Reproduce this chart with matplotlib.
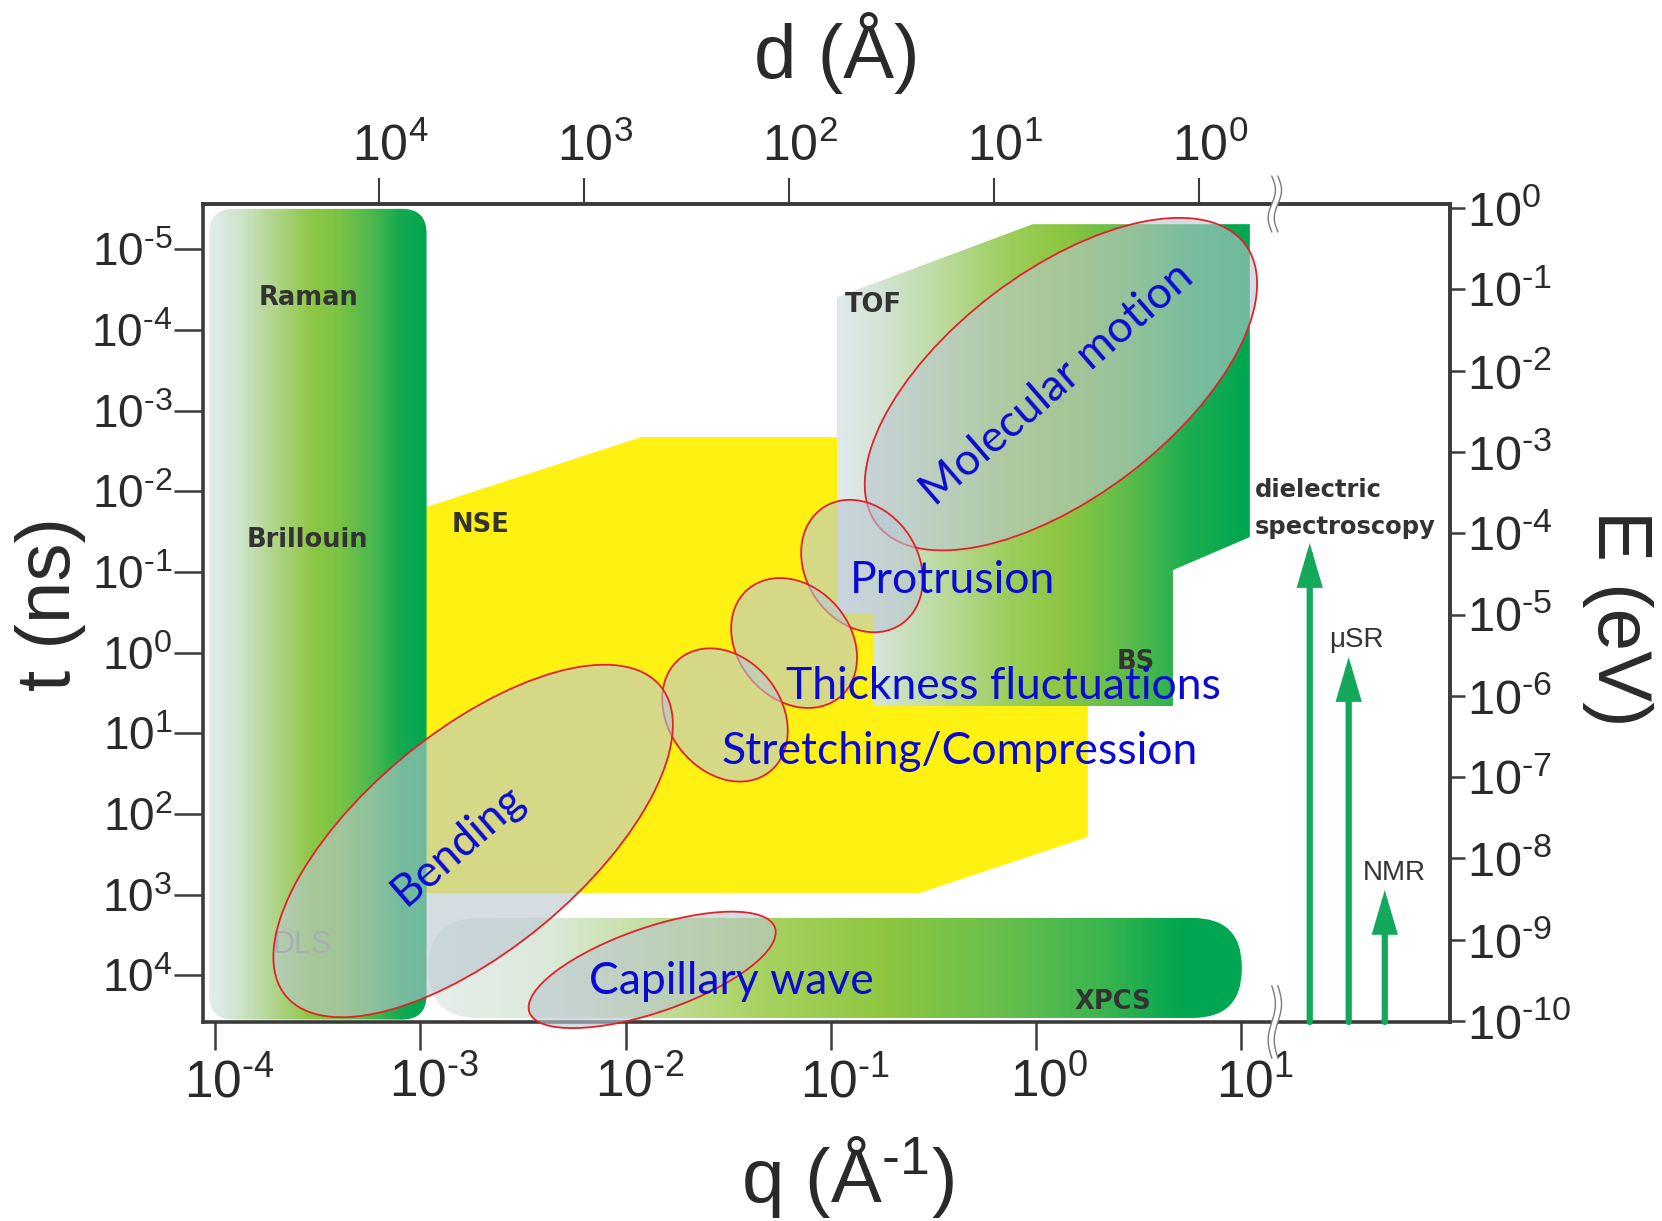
import numpy as np
import matplotlib
matplotlib.use("Agg")
import matplotlib.pyplot as plt
from matplotlib.patches import Polygon, FancyBboxPatch, Ellipse
from matplotlib.colors import LinearSegmentedColormap
from matplotlib.transforms import Affine2D, ScaledTranslation

plt.rcParams['font.family'] = ['Liberation Sans', 'DejaVu Sans']
plt.rcParams['mathtext.fontset'] = 'custom'
plt.rcParams['mathtext.rm'] = 'Liberation Sans'
plt.rcParams['mathtext.it'] = 'Liberation Sans:italic'
plt.rcParams['mathtext.bf'] = 'Liberation Sans:bold'

# ---------------------------------------------------------------------------
# Everything is placed in decades: log10 q [1/Å] across, log10 t [ns] down.
# ---------------------------------------------------------------------------
q_decades = [-4, -3, -2, -1, 0, 1]
t_decades = [-5, -4, -3, -2, -1, 0, 1, 2, 3, 4]
d_decades = [4, 3, 2, 1, 0]
E_decades = [0, -1, -2, -3, -4, -5, -6, -7, -8, -9, -10]

q_range = (-4.06, 2.02)
t_range = (-5.56, 4.58)
q_break = 1.166          # where the q axis is interrupted

# Light scattering (Raman / Brillouin / DLS) window
raman_q = [-4.03, -2.97]
raman_t = [-5.50, 4.55]

# XPCS window
xpcs_q = [-2.96, 1.005]
xpcs_t = [3.29, 4.53]

# Neutron spin echo window
nse_q = [-2.972, -1.924, -0.90, -0.90, 0.254, 0.254, -0.564, -2.972]
nse_t = [-1.803, -2.670, -2.670, -0.489, -0.489, 2.286, 2.98, 2.98]

# Time-of-flight + backscattering window
tof_q = [-0.969, -0.014, 1.044, 1.044, 0.669, 0.669, -0.788, -0.788, -0.969]
tof_t = [-4.405, -5.31, -5.31, -1.431, -1.022, 0.663, 0.663, -0.489, -0.489]

# Local probes beyond the q break: arrows reaching up to their fastest time
probe_q = [1.336, 1.526, 1.702]
probe_tip_t = [-1.357, 0.056, 2.943]

# Technique names
tech_names = ['Raman', 'Brillouin', 'NSE', 'TOF', 'BS', 'DLS', 'XPCS',
              'dielectric', 'spectroscopy', 'μSR', 'NMR']
tech_q = [-3.547, -3.552, -2.709, -0.793, 0.488, -3.576, 0.376,
          1.068, 1.068, 1.565, 1.750]
tech_t = [-4.393, -1.394, -1.580, -4.306, 0.118, 3.625, 4.331,
          -2.014, -1.555, -0.155, 2.732]

# Membrane dynamics domains (ellipse centre, size in points, tilt in degrees)
motion_q = [0.123, -0.847, -1.178, -1.515, -2.743, -1.870]
motion_t = [-3.327, -1.072, -0.118, 0.774, 2.336, 3.934]
motion_w = [333, 101, 102, 104, 350, 187]
motion_h = [162, 81, 81, 81, 157, 61]
motion_tilt = [37.3, 123.5, 131, 128, 39.6, 19]

# Membrane dynamics names
motion_names = ['Molecular motion', 'Protrusion', 'Thickness fluctuations',
                'Stretching/Compression', 'Bending', 'Capillary wave']
motion_label_q = [0.103, -0.408, -0.155, -0.369, -2.816, -1.485]
motion_label_t = [-3.327, -0.898, 0.415, 1.233, 2.385, 4.083]
motion_label_rot = [41, 0, 0, 0, 41, 0]


def t_to_E(lt):
    return -(np.asarray(lt) + 5.508) * 0.9927


def E_to_t(le):
    return -np.asarray(le) / 0.9927 - 5.508


def q_to_d(lq):
    return np.log10(2 * np.pi) - np.asarray(lq)


def dec(n):
    if n < 0:
        return r'$10^{\text{-}%d}$' % (-n)
    return r'$10^{%d}$' % n


W, H = 1662, 1221
fig = plt.figure(figsize=(W / 100, H / 100), dpi=100)
ax = fig.add_axes([203 / W, 1 - 1022 / H, (1450 - 203) / W, (1022 - 204) / H])
ax.set_xlim(*q_range)
ax.set_ylim(t_range[1], t_range[0])
ax.set_autoscale_on(False)

AXC = '#3b3b3b'
GREEN = '#00a651'
ASPECT = 2.54   # decades of t per decade of q for equal on-screen length


def gradient_fill(patch, x0, x1, stops, z):
    ax.add_patch(patch)
    cmap = LinearSegmentedColormap.from_list('g', stops)
    grad = np.linspace(0, 1, 600)[None, :]
    im = ax.imshow(grad, cmap=cmap, extent=(x0, x1, t_range[1], t_range[0]),
                   aspect='auto', interpolation='bilinear', zorder=z)
    im.set_clip_path(patch)


# NSE (flat yellow)
ax.add_patch(Polygon(np.column_stack([nse_q, nse_t]), closed=True,
                     fc='#fff212', ec='none', zorder=1))

# Raman / Brillouin / DLS column
col = FancyBboxPatch((raman_q[0], raman_t[0]), raman_q[1] - raman_q[0],
                     raman_t[1] - raman_t[0],
                     boxstyle='round,pad=0,rounding_size=0.12',
                     mutation_aspect=ASPECT, fc='none', ec='none', zorder=2)
gradient_fill(col, raman_q[0], raman_q[1],
              [(0, '#e2edee'), (0.12, '#d2e5d3'), (0.3, '#b0d58a'),
               (0.47, '#8ec744'), (0.6, '#7ac346'), (0.75, '#4cb84e'),
               (0.88, '#13aa50'), (1, GREEN)], 2)

# TOF / BS block
tof = Polygon(np.column_stack([tof_q, tof_t]), closed=True, fc='none',
              ec='none', zorder=2)
gradient_fill(tof, min(tof_q), max(tof_q),
              [(0, '#dfe9ec'), (0.1, '#d4e4d6'), (0.25, '#bcdb9f'),
               (0.42, '#9ccd5a'), (0.55, '#8cc640'), (0.7, '#5fbc4b'),
               (0.85, '#1dae50'), (1, GREEN)], 2)

# XPCS pill
xp = FancyBboxPatch((xpcs_q[0], xpcs_t[0]), xpcs_q[1] - xpcs_q[0],
                    xpcs_t[1] - xpcs_t[0],
                    boxstyle='round,pad=0,rounding_size=0.24',
                    mutation_aspect=ASPECT, fc='none', ec='none', zorder=2)
gradient_fill(xp, xpcs_q[0], xpcs_q[1],
              [(0, '#e6eeec'), (0.15, '#dbe9d8'), (0.4, '#aad262'),
               (0.56, '#8dc63f'), (0.69, '#6cbf4b'), (0.83, '#3ab54e'),
               (0.93, GREEN), (1, GREEN)], 2)

# Technique names
for name, q, t in zip(tech_names, tech_q, tech_t):
    kw = dict(fontsize=18.5, color='#333333', family=['DejaVu Sans'],
              fontweight='bold', ha='center', va='center', zorder=3)
    if name in ('dielectric', 'spectroscopy'):
        kw['ha'] = 'left'
        kw['fontsize'] = 17.5
    if name in ('μSR', 'NMR'):
        kw['family'] = ['Liberation Sans', 'DejaVu Sans']
        kw['fontsize'] = 20
        kw['fontweight'] = 'normal'
    if name == 'DLS':
        kw['family'] = ['Liberation Sans', 'DejaVu Sans']
        kw['color'] = '#8c8c8c'
        kw['fontsize'] = 22
        kw['fontweight'] = 'normal'
    ax.text(q, t, name, **kw)

# Membrane dynamics ellipses
to_pts = Affine2D().scale(1 / 72) + fig.dpi_scale_trans
for q, t, w, h, a in zip(motion_q, motion_t, motion_w, motion_h, motion_tilt):
    tr = to_pts + ScaledTranslation(q, t, ax.transData)
    ax.add_patch(Ellipse((0, 0), w, h, angle=a, transform=tr,
                         fc=(186 / 255, 199 / 255, 209 / 255, 0.6),
                         ec='#e0232a', lw=1.3, zorder=4, clip_on=False))

for name, q, t, r in zip(motion_names, motion_label_q, motion_label_t,
                         motion_label_rot):
    ax.text(q, t, name, fontsize=32, color='#0a0ad2',
            family=['Lato', 'DejaVu Sans'], ha='center', va='center',
            rotation=r, rotation_mode='anchor', zorder=5)

# Local probe arrows
for q, tip in zip(probe_q, probe_tip_t):
    ax.annotate('', xy=(q, tip), xytext=(q, t_range[1]),
                arrowprops=dict(arrowstyle='-|>,head_length=0.58,head_width=0.17',
                                mutation_scale=38, lw=4.5, color='#14a85a',
                                shrinkA=0, shrinkB=0, joinstyle='miter'),
                zorder=5)

# Axes styling
for s in ax.spines.values():
    s.set_linewidth(2.6)
    s.set_color(AXC)

ax.set_xticks(q_decades, [dec(n) for n in q_decades])
ax.set_yticks(t_decades, [dec(n) for n in t_decades])
ax.tick_params(axis='x', direction='out', length=20, width=1.8, color=AXC,
               pad=6, labelsize=37, labelcolor='#2a2a2a')
ax.tick_params(axis='y', direction='out', length=21, width=1.8, color=AXC,
               pad=1, labelsize=33, labelcolor='#2a2a2a')
shift_bottom = ScaledTranslation(10 / 72, 0, fig.dpi_scale_trans)
for lbl in ax.get_xticklabels():
    lbl.set_transform(lbl.get_transform() + shift_bottom)

top = ax.secondary_xaxis('top', functions=(q_to_d, q_to_d))
top.set_xticks(d_decades, [dec(n) for n in d_decades])
top.tick_params(direction='out', length=19, width=1.5, color=AXC, pad=5,
                labelsize=36, labelcolor='#2a2a2a')
top.spines['top'].set_linewidth(2.6)
top.spines['top'].set_color(AXC)
shift_top = ScaledTranslation(8 / 72, 0, fig.dpi_scale_trans)
for lbl in top.get_xticklabels():
    lbl.set_transform(lbl.get_transform() + shift_top)

right = ax.secondary_yaxis('right', functions=(t_to_E, E_to_t))
right.set_yticks(E_decades, [dec(n) for n in E_decades])
right.tick_params(direction='out', length=11, width=1.8, color=AXC, pad=1,
                  labelsize=35, labelcolor='#2a2a2a')
right.spines['right'].set_linewidth(2.6)
right.spines['right'].set_color(AXC)

# Breaks on the q axis
s = np.linspace(-1, 1, 80)
for yax, half in ((1.0, 20), (0.0, 26)):
    tr = to_pts + ScaledTranslation(q_break, yax, ax.get_xaxis_transform())
    wob = 2.6 * np.sin(np.pi * s)
    ax.plot(wob, half * s, transform=tr, color='white', lw=4.5,
            clip_on=False, zorder=8, solid_capstyle='butt')
    for off in (-2.2, 2.2):
        ax.plot(wob + off, half * s, transform=tr, color='#7a7a7a', lw=1.0,
                clip_on=False, zorder=9)

# Axis titles
lab = dict(fontsize=55, color='#2a2a2a', ha='center', va='center')
fig.text(837 / W, 1 - 53 / H, 'd (Å)', **lab)
fig.text(848 / W, 1 - 1177 / H, r'q (Å$^{\text{-}1}$)', **lab)
fig.text(51 / W, 1 - 604 / H, 't (ns)', rotation=90, **lab)
fig.text(1617 / W, 1 - 618 / H, 'E (eV)', rotation=-90, **lab)

fig.savefig('out.png', dpi=100, facecolor='white')
